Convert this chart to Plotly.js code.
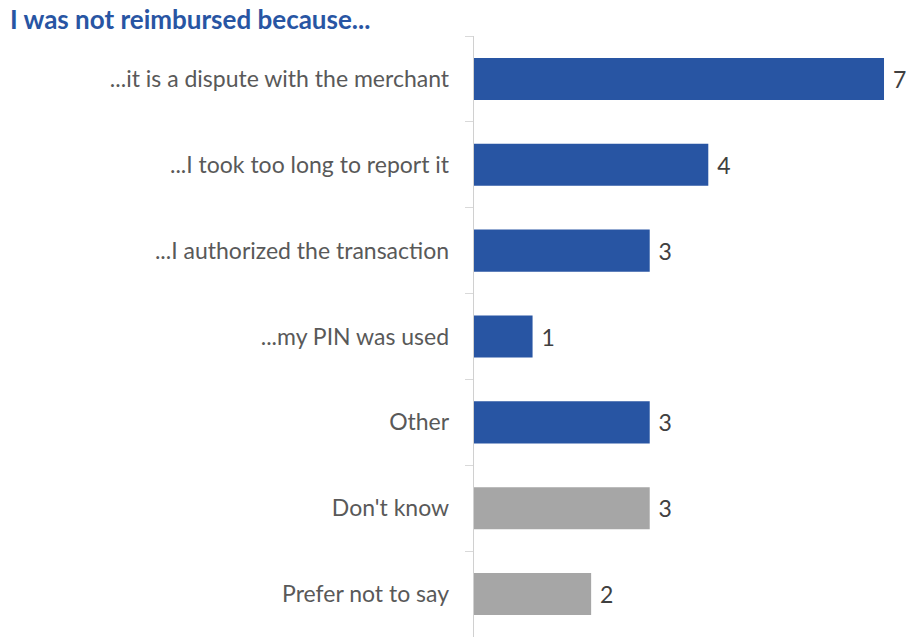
<!DOCTYPE html>
<html><head><meta charset="utf-8">
<script src="https://cdn.plot.ly/plotly-3.0.1.min.js"></script>
<style>html,body{margin:0;padding:0;background:#fff}</style>
</head><body>
<div id="chart" style="width:909px;height:637px"></div>
<script>
const categories = ["...it is a dispute with the merchant","...I took too long to report it","...I authorized the transaction","...my PIN was used","Other","Don't know","Prefer not to say"];
const values = [7,4,3,1,3,3,2];
const barColors = ["#2855A3","#2855A3","#2855A3","#2855A3","#2855A3","#A6A6A6","#A6A6A6"];

const trace = {
  type: "bar", orientation: "h",
  y: categories, x: values,
  marker: {color: barColors},
  text: values.map(v => String(v)),
  texttemplate: " %{text}",
  textposition: "outside",
  cliponaxis: false,
  textfont: {family: "Lato", size: 23, color: "#404040"},
  hoverinfo: "none"
};
const layout = {
  width: 909, height: 637,
  margin: {l: 474, r: 10, t: 36, b: 0},
  paper_bgcolor: "#fff", plot_bgcolor: "#fff",
  showlegend: false,
  bargap: 0.51,
  title: {text: "<b>I was not reimbursed because...</b>", x: 0.011, xanchor: "left", y: 0.968, yanchor: "middle",
          font: {family: "Lato", size: 26, color: "#2855A3"}},
  xaxis: {range: [0, 7.256], visible: false, fixedrange: true},
  yaxis: {type: "category", autorange: "reversed", tickson: "boundaries", ticks: "outside", ticklen: 8,
          tickcolor: "#D9D9D9", showline: true, linecolor: "#D0D0D0", linewidth: 1.3, showgrid: false, zeroline: false,
          ticklabelstandoff: 19,
          tickfont: {family: "Lato", size: 23, color: "#595959"}}
};
Plotly.newPlot("chart", [trace], layout, {displayModeBar: false, staticPlot: true});
</script>
</body></html>
